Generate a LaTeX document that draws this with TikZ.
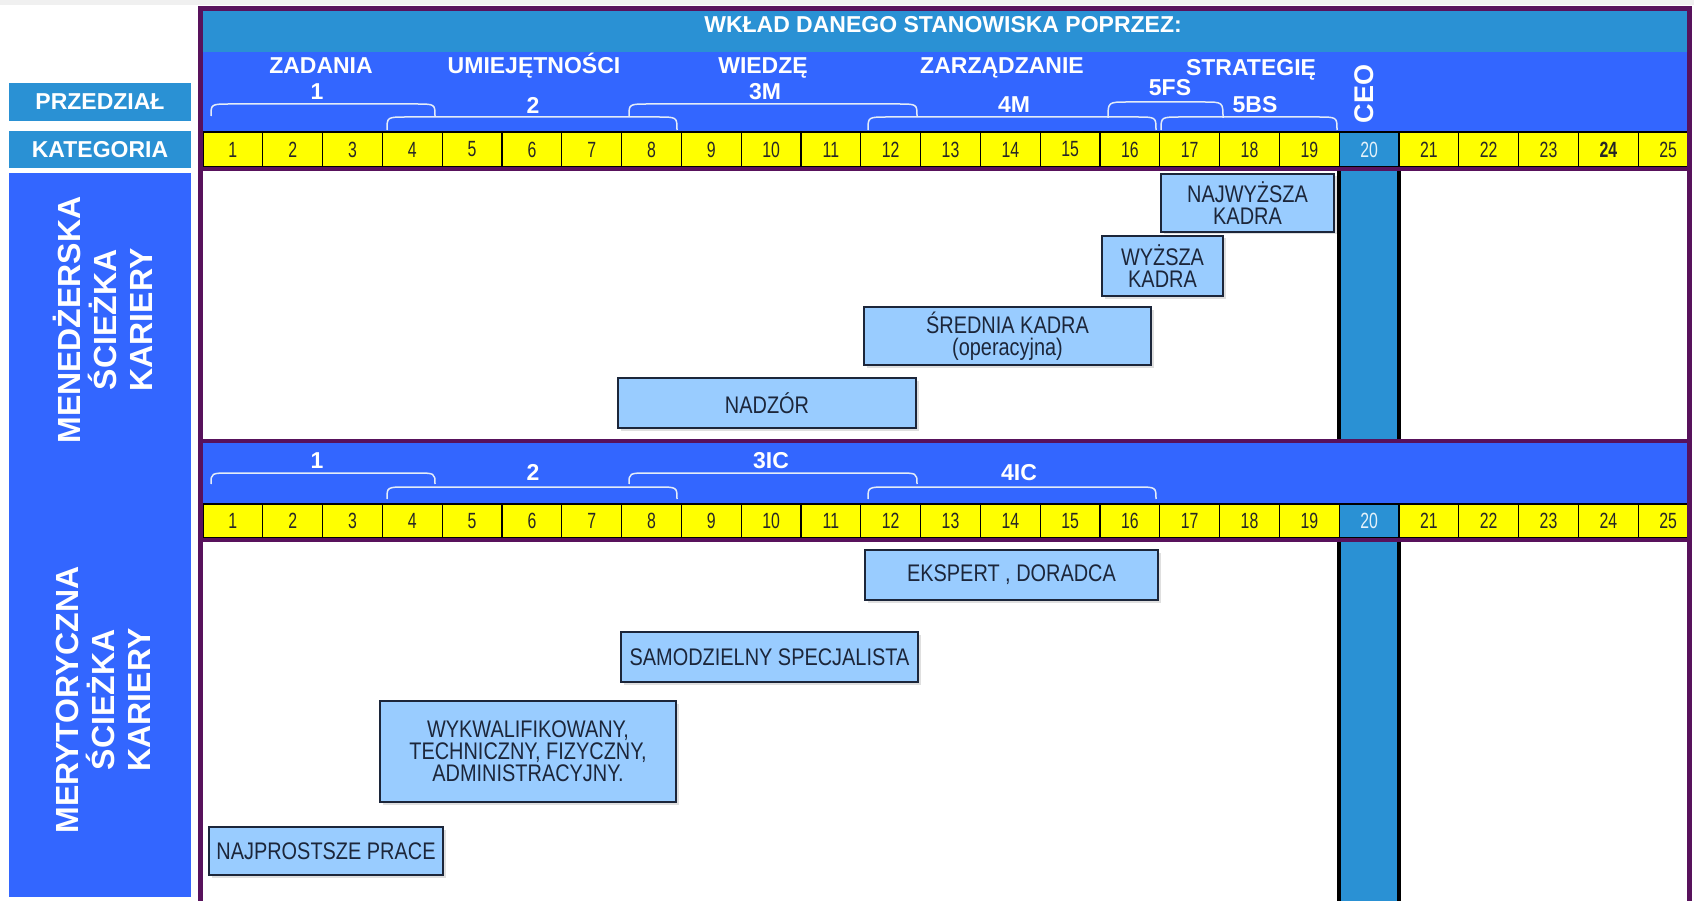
\documentclass[tikz,border=0pt]{standalone}
\usepackage{fontspec}
\setmainfont{Liberation Sans}
\newfontfamily\narrowfont{Liberation Sans}[FakeStretch=0.83]
\newfontfamily\digitfont{Liberation Sans}[FakeStretch=0.72]
\usetikzlibrary{shadows}

\definecolor{ramka}{RGB}{88,18,92}
\definecolor{pasjasny}{RGB}{42,145,212}
\definecolor{pasniebieski}{RGB}{51,102,255}
\definecolor{zolty}{RGB}{255,255,0}
\definecolor{stanowisko}{RGB}{153,204,255}
\definecolor{obrys}{RGB}{28,38,58}
\definecolor{klamrakolor}{RGB}{228,236,248}

% bracket over a range of categories: x1, x2, y of line, y of ends
\newcommand{\klamra}[4]{\draw[klamra] (#1,#4) .. controls (#1,#3) .. (#1+20,#3)
    -- (#2-20,#3) .. controls (#2,#3) .. (#2,#4);}

\begin{document}
\begin{tikzpicture}[x = 1pt, y = -1pt, % one unit = one pixel, y goes down
        header/.style = {text = white, anchor = base, inner sep = 0pt,
            font = \fontsize{23}{26}\selectfont\bfseries},
        rowtitle/.style = {fill = pasjasny, text = white, minimum width = 182pt,
            inner sep = 0pt, font = \fontsize{23}{26}\selectfont\bfseries},
        sciezka/.style = {rotate = 90, align = center, text = white,
            font = \fontsize{32}{36}\selectfont\bfseries},
        cell/.style = {draw = black, line width = 1.2pt, fill = zolty,
            minimum width = 59.8pt, minimum height = 35pt, inner sep = 0pt,
            text = black!85, font = \digitfont\fontsize{22}{24}\selectfont},
        ceocell/.style = {cell, fill = pasjasny, text = white!88!pasjasny},
        job/.style = {draw = obrys, line width = 1.5pt, fill = stanowisko,
            inner sep = 0pt, align = center, text = obrys,
            font = \narrowfont\fontsize{24}{22}\selectfont,
            drop shadow = {opacity = 0.25, shadow xshift = 2.5pt, shadow yshift = -2.5pt}},
        klamra/.style = {draw = klamrakolor, line width = 1.5pt}
    ]

    \useasboundingbox (0,0) rectangle (1694,901);

    % background bands
    \fill[black!6] (0,0) rectangle (1694,5);
    \fill[pasjasny] (203,11) rectangle (1689,52);
    \fill[pasniebieski] (203,52) rectangle (1689,132);
    \fill[pasniebieski] (203,441) rectangle (1689,504);
    \fill[pasniebieski] (9,173) rectangle (191,897);

    % titles on the left
    \node[rowtitle, minimum height = 38pt] (przedzial) at (100,102) {PRZEDZIAŁ};
    \node[rowtitle, minimum height = 37pt] (kategoria) at (100,149.5) {KATEGORIA};
    \node[sciezka] (menedzerska) at (103,320) {MENEDŻERSKA\\ŚCIEŻKA\\KARIERY};
    \node[sciezka] (merytoryczna) at (103,700) {MERYTORYCZNA\\ŚCIEŻKA\\KARIERY};

    % categories 1..25
    \begin{scope}
        \clip (203,0) rectangle (1689,901);
        \foreach \i in {1,...,25} {
            \ifnum\i=20 \def\rodzaj{ceocell}\else\def\rodzaj{cell}\fi
            \node[\rodzaj] (k\i) at ({203+(\i-0.5)*59.8},149.5) {\ifnum\i=24 \bfseries\fi\i};
            \node[\rodzaj, minimum height = 34pt] (m\i) at ({203+(\i-0.5)*59.8},521) {\i};
        }
    \end{scope}

    % CEO column
    \fill[pasjasny] (1339.2,171) rectangle (1399,439);
    \fill[pasjasny] (1339.2,542) rectangle (1399,901);
    \draw[black, line width = 3.5pt] (1339.2,171) -- (1339.2,439) (1399,171) -- (1399,439)
        (1339.2,542) -- (1339.2,901) (1399,542) -- (1399,901);

    % positions
    \node[job, minimum width = 173pt, minimum height = 58pt] (najwyzsza) at (1247.5,203) {NAJWYŻSZA\\KADRA};
    \node[job, minimum width = 121pt, minimum height = 60pt] (wyzsza) at (1162.5,266) {WYŻSZA\\KADRA};
    \node[job, minimum width = 287pt, minimum height = 58pt] (srednia) at (1007.5,336) {ŚREDNIA KADRA\\(operacyjna)};
    \node[job, minimum width = 298pt, minimum height = 50pt] (nadzor) at (767,403) {NADZÓR};
    \node[job, minimum width = 293pt, minimum height = 50pt] (ekspert) at (1011.5,575) {EKSPERT , DORADCA};
    \node[job, minimum width = 297pt, minimum height = 50pt] (samodzielny) at (769.5,657) {SAMODZIELNY SPECJALISTA};
    \node[job, minimum width = 296pt, minimum height = 101pt] (wykwalifikowany) at (528,751.5)
        {WYKWALIFIKOWANY,\\TECHNICZNY, FIZYCZNY,\\ADMINISTRACYJNY.};
    \node[job, minimum width = 234pt, minimum height = 48pt] (najprostsze) at (326,851) {NAJPROSTSZE PRACE};

    % brackets
    \klamra{211}{435}{104}{116} \klamra{387}{677}{117}{130}
    \klamra{629}{917}{104}{116} \klamra{868}{1156}{117}{130}
    \klamra{1108}{1223}{102}{118} \klamra{1161}{1337}{117}{130}
    \klamra{211}{435}{473}{484} \klamra{387}{677}{487}{499}
    \klamra{629}{917}{473}{484} \klamra{868}{1156}{487}{499}

    % frame
    \draw[ramka, line width = 5pt] (200.5,920) -- (200.5,9) -- (1689,9) -- (1689,920);
    \draw[ramka, line width = 4pt] (200.5,169) -- (1689,169) (200.5,441) -- (1689,441)
        (200.5,540) -- (1689,540);

    % header texts
    \node[header] (wklad) at (943,33) {WKŁAD DANEGO STANOWISKA POPRZEZ:};
    \node[header] (zadania) at (321,74) {ZADANIA};
    \node[header] (p1) at (317,100) {1};
    \node[header] (umiejetnosci) at (534,74) {UMIEJĘTNOŚCI};
    \node[header] (p2) at (533,114) {2};
    \node[header] (wiedze) at (763,74) {WIEDZĘ};
    \node[header] (p3m) at (765,100) {3M};
    \node[header] (zarzadzanie) at (1002,74) {ZARZĄDZANIE};
    \node[header] (p4m) at (1014,113) {4M};
    \node[header] (strategie) at (1251,76) {STRATEGIĘ};
    \node[header] (p5fs) at (1170,96) {5FS};
    \node[header] (p5bs) at (1255,113) {5BS};
    \node[header, anchor = center, rotate = 90, font = \fontsize{27}{30}\selectfont\bfseries] (ceo) at (1364,94) {CEO};

    \node[header] (q1) at (317,468) {1};
    \node[header] (q2) at (533,480) {2};
    \node[header] (q3ic) at (771,468) {3IC};
    \node[header] (q4ic) at (1019,480) {4IC};
\end{tikzpicture}
\end{document}
